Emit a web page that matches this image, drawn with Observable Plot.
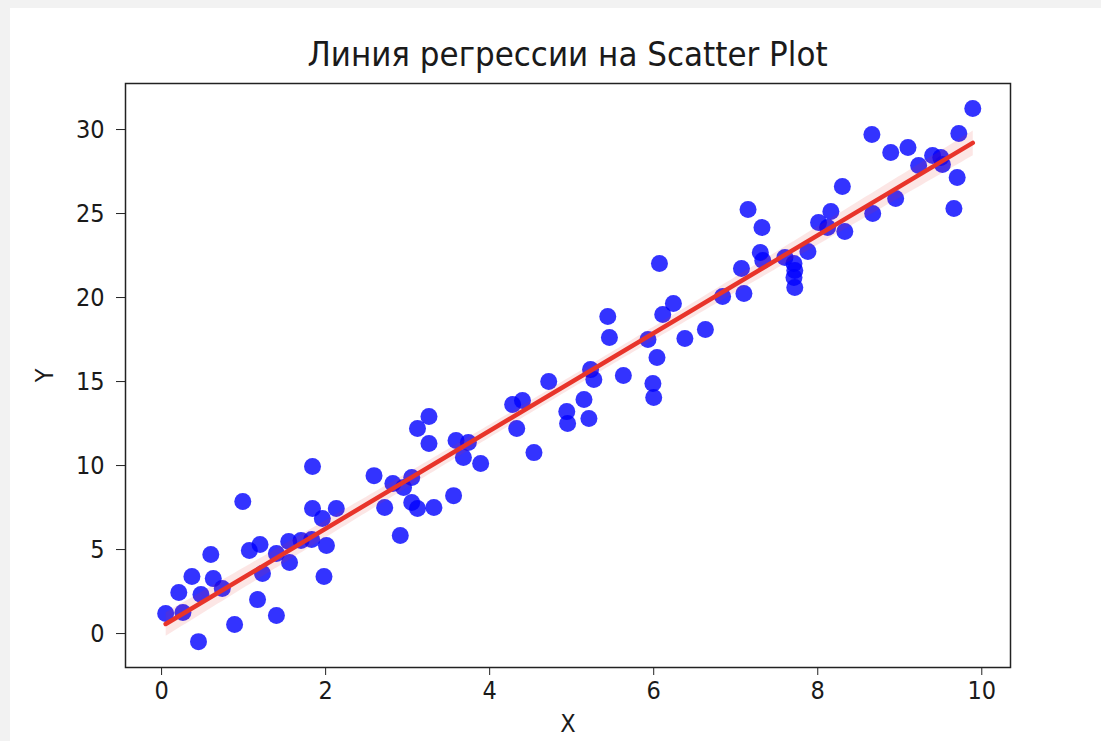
<!DOCTYPE html>
<html>
<head>
<meta charset="utf-8">
<script src="https://cdn.jsdelivr.net/npm/d3@7"></script>
<script src="https://cdn.jsdelivr.net/npm/@observablehq/plot@0.6"></script>
<style>
  body { margin: 0; background: #f2f2f2; width: 1101px; height: 741px; overflow: hidden; }
  #card { position: absolute; left: 10px; top: 8px; width: 1091px; height: 733px; background: #fff; overflow: hidden; }
  #title { position: absolute; left: 115px; width: 885px; top: 29px; text-align: center;
    font-family: "DejaVu Sans Condensed", "DejaVu Sans", sans-serif; font-stretch: condensed;
    font-size: 34.5px; color: #1a1a1a; line-height: 1; }
  #chart { position: absolute; left: 0; top: 60px; }
</style>
</head>
<body>
<div id="card">
  <div id="title">Линия регрессии на Scatter Plot</div>
  <div id="chart"></div>
</div>
<script>
const titleText = "Линия регрессии на Scatter Plot";
const xLabel = "X";
const yLabel = "Y";
const xValues = [0.05,0.26,0.21,0.37,0.45,0.48,0.60,0.63,0.74,0.89,0.99,1.07,1.20,1.17,1.23,1.40,1.40,1.56,1.55,1.70,1.83,1.84,1.84,1.96,2.13,2.01,1.98,2.59,2.82,2.95,3.05,2.72,3.05,3.12,3.32,2.91,3.26,3.12,3.26,3.56,3.59,3.74,3.68,3.89,4.28,4.40,4.33,4.54,4.72,4.94,4.95,5.15,5.21,5.23,5.27,5.44,5.46,5.63,5.93,6.07,6.11,6.24,6.04,5.99,6.00,6.38,6.63,7.15,7.32,7.30,7.33,7.07,7.10,6.84,7.60,7.71,7.88,7.72,7.71,7.72,8.01,8.16,8.12,8.33,8.30,8.67,8.66,8.89,9.10,9.23,9.40,9.50,9.52,9.72,9.89,9.70,9.66,8.95];
const yValues = [1.19,1.25,2.44,3.39,-0.48,2.32,4.70,3.27,2.68,0.54,7.86,4.94,5.30,2.02,3.57,1.07,4.76,4.23,5.48,5.54,5.60,9.94,7.44,6.85,7.44,5.24,3.39,9.40,8.93,8.69,9.29,7.50,7.80,7.44,7.50,5.83,12.92,12.20,11.31,8.21,11.49,11.37,10.48,10.12,13.63,13.87,12.20,10.77,15.00,13.21,12.50,13.93,12.80,15.71,15.12,18.87,17.62,15.36,17.50,22.02,18.99,19.64,16.43,14.88,14.05,17.56,18.10,25.24,24.17,22.68,22.20,21.73,20.24,20.06,22.38,22.02,22.74,21.61,21.19,20.60,24.46,25.12,24.17,23.93,26.61,25.00,29.70,28.63,28.93,27.86,28.45,28.33,27.92,29.76,31.25,27.14,25.30,25.89];
const xTicks = [0, 2, 4, 6, 8, 10];
const yTicks = [0, 5, 10, 15, 20, 25, 30];

const data = xValues.map((x, i) => ({x, y: yValues[i]}));

document.getElementById("title").textContent = titleText;

const font = '"DejaVu Sans Condensed", "DejaVu Sans", sans-serif';
const chart = Plot.plot({
  width: 1091,
  height: 673,
  marginTop: 15,
  marginBottom: 74,
  marginLeft: 115,
  marginRight: 91,
  style: {fontFamily: font, fontSize: "25px", color: "#1a1a1a", background: "transparent", fontStretch: "condensed"},
  x: {domain: [-0.44, 10.35]},
  y: {domain: [-2.02, 32.74]},
  marks: [
    Plot.axisX({ticks: xTicks, tickSize: 8, tickPadding: 6, label: xLabel, labelAnchor: "center", labelArrow: "none", labelOffset: 64, stroke: "#222"}),
    Plot.axisY({ticks: yTicks, tickSize: 9, tickPadding: 12, label: yLabel, labelAnchor: "center", labelArrow: "none", labelOffset: 90, stroke: "#222"}),
    Plot.dot(data, {x: "x", y: "y", r: 8.5, fill: "#0000ff", fillOpacity: 0.8, stroke: "none"}),
    Plot.linearRegressionY(data, {x: "x", y: "y", stroke: "#e8342a", strokeWidth: 4.5, fill: "#e8342a", fillOpacity: 0.12, ci: 0.95}),
    Plot.frame({stroke: "#222", strokeWidth: 1.5})
  ]
});
document.getElementById("chart").appendChild(chart);
</script>
</body>
</html>
